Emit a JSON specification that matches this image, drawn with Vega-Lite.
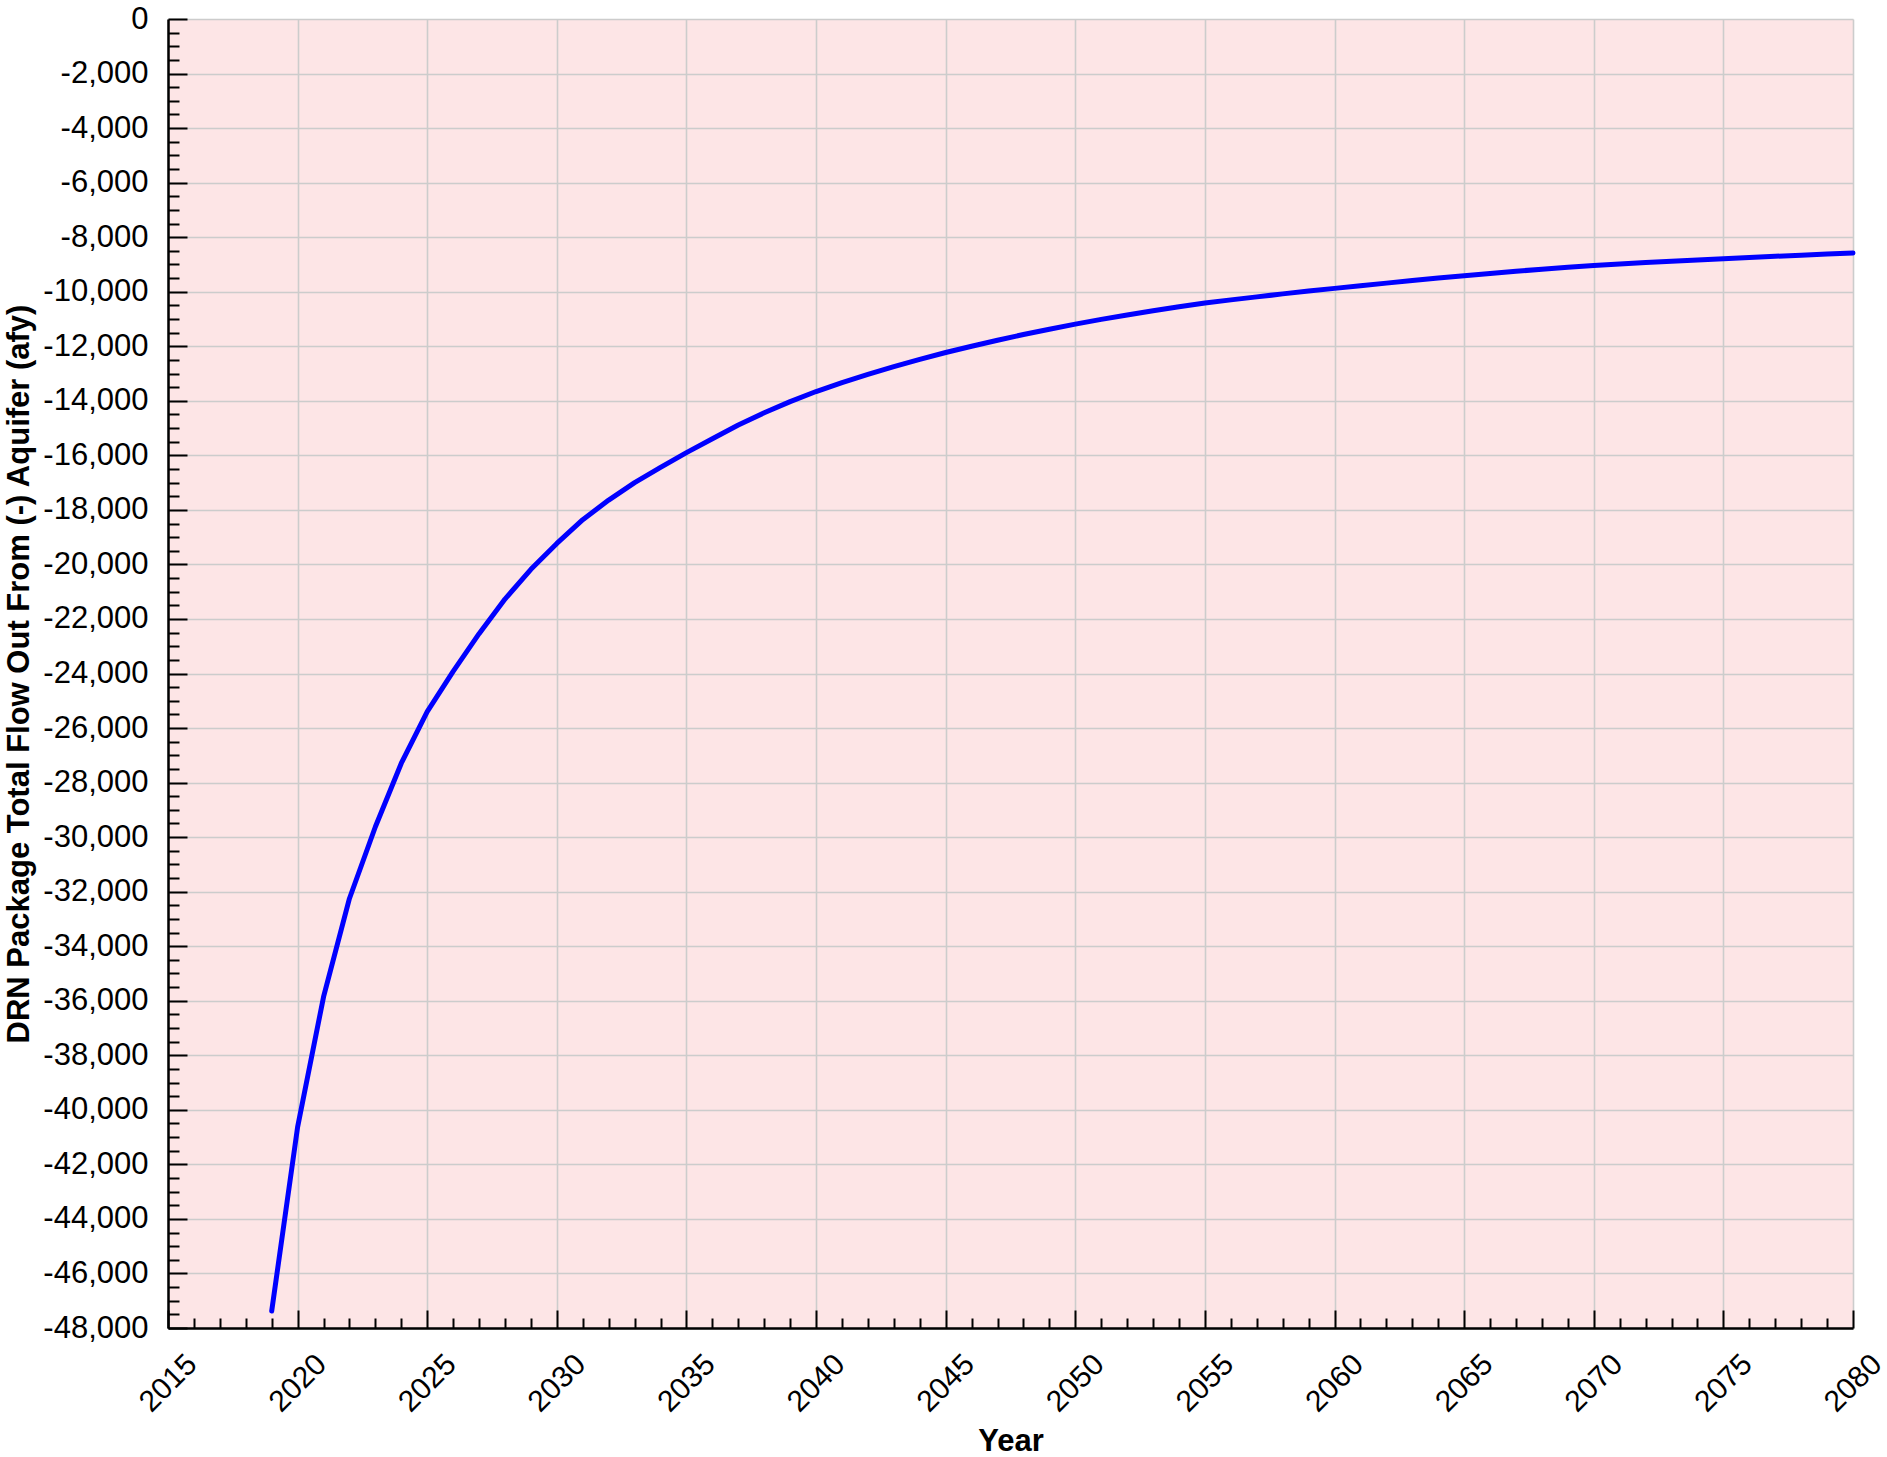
{
  "$schema": "https://vega.github.io/schema/vega-lite/v6.json",
  "width": 1685,
  "height": 1309,
  "autosize": {"type": "none"},
  "padding": {"left": 168, "top": 19, "right": 34, "bottom": 129},
  "background": "white",
  "config": {
    "view": {"fill": "#fde5e6", "stroke": null},
    "font": "Liberation Sans"
  },
  "data": {
    "values": [
      {"year": 2019, "flow": -47380},
      {"year": 2020, "flow": -40630},
      {"year": 2021, "flow": -35860},
      {"year": 2022, "flow": -32250},
      {"year": 2023, "flow": -29620},
      {"year": 2024, "flow": -27290},
      {"year": 2025, "flow": -25400},
      {"year": 2026, "flow": -23920},
      {"year": 2027, "flow": -22540},
      {"year": 2028, "flow": -21270},
      {"year": 2029, "flow": -20180},
      {"year": 2030, "flow": -19230},
      {"year": 2031, "flow": -18360},
      {"year": 2032, "flow": -17640},
      {"year": 2033, "flow": -17000},
      {"year": 2034, "flow": -16440},
      {"year": 2035, "flow": -15900},
      {"year": 2036, "flow": -15390},
      {"year": 2037, "flow": -14890},
      {"year": 2038, "flow": -14440},
      {"year": 2039, "flow": -14030},
      {"year": 2040, "flow": -13660},
      {"year": 2041, "flow": -13330},
      {"year": 2042, "flow": -13030},
      {"year": 2043, "flow": -12750},
      {"year": 2044, "flow": -12480},
      {"year": 2045, "flow": -12230},
      {"year": 2046, "flow": -12000},
      {"year": 2047, "flow": -11780},
      {"year": 2048, "flow": -11570},
      {"year": 2049, "flow": -11375},
      {"year": 2050, "flow": -11190},
      {"year": 2051, "flow": -11015},
      {"year": 2052, "flow": -10855},
      {"year": 2053, "flow": -10700},
      {"year": 2054, "flow": -10555},
      {"year": 2055, "flow": -10415},
      {"year": 2056, "flow": -10300},
      {"year": 2057, "flow": -10190},
      {"year": 2058, "flow": -10080},
      {"year": 2059, "flow": -9975},
      {"year": 2060, "flow": -9878},
      {"year": 2061, "flow": -9780},
      {"year": 2062, "flow": -9685},
      {"year": 2063, "flow": -9590},
      {"year": 2064, "flow": -9500},
      {"year": 2065, "flow": -9413},
      {"year": 2066, "flow": -9330},
      {"year": 2067, "flow": -9250},
      {"year": 2068, "flow": -9175},
      {"year": 2069, "flow": -9105},
      {"year": 2070, "flow": -9040},
      {"year": 2071, "flow": -8980},
      {"year": 2072, "flow": -8930},
      {"year": 2073, "flow": -8880},
      {"year": 2074, "flow": -8835},
      {"year": 2075, "flow": -8789},
      {"year": 2076, "flow": -8745},
      {"year": 2077, "flow": -8700},
      {"year": 2078, "flow": -8660},
      {"year": 2079, "flow": -8620},
      {"year": 2080, "flow": -8580}
    ]
  },
  "mark": {"type": "line", "color": "#0000ff", "strokeWidth": 5, "strokeCap": "round", "strokeJoin": "round"},
  "encoding": {
    "x": {
      "field": "year",
      "type": "quantitative",
      "scale": {"domain": [2015, 2080], "nice": false, "zero": false},
      "axis": {
        "title": "Year",
        "tickCount": 65,
        "grid": true,
        "gridColor": "#cccccc",
        "gridWidth": 1.6,
        "gridOpacity": {"condition": {"test": "datum.value % 5 === 0", "value": 1}, "value": 0},
        "tickSize": {"condition": {"test": "datum.value % 5 === 0", "value": -18}, "value": -10},
        "tickColor": "black",
        "tickWidth": 2,
        "domainColor": "black",
        "domainWidth": 2.5,
        "labelExpr": "datum.value % 5 === 0 ? format(datum.value, 'd') : ''",
        "labelAngle": -45,
        "labelAlign": "center",
        "labelBaseline": "middle",
        "labelPadding": 73,
        "labelFontSize": 30,
        "labelColor": "black",
        "labelOverlap": false,
        "labelFlush": false,
        "labelBound": false,
        "titleFontSize": 31,
        "titleFontWeight": "bold",
        "titleColor": "black",
        "titlePadding": 9
      }
    },
    "y": {
      "field": "flow",
      "type": "quantitative",
      "scale": {"domain": [-48000, 0], "nice": false, "zero": false},
      "axis": {
        "title": "DRN Package Total Flow Out From (-) Aquifer (afy)",
        "tickCount": 96,
        "grid": true,
        "gridColor": "#cccccc",
        "gridWidth": 1.6,
        "gridOpacity": {"condition": {"test": "datum.value % 2000 === 0", "value": 1}, "value": 0},
        "tickSize": {"condition": {"test": "datum.value % 2000 === 0", "value": -19}, "value": -11},
        "tickColor": "black",
        "tickWidth": 2,
        "domainColor": "black",
        "domainWidth": 2.5,
        "labelExpr": "datum.value % 2000 === 0 ? replace(format(datum.value, ','), '\u2212', '-') : ''",
        "labelPadding": 39,
        "labelFontSize": 31,
        "labelColor": "black",
        "labelOverlap": false,
        "labelFlush": false,
        "labelBound": false,
        "titleFontSize": 31,
        "titleFontWeight": "bold",
        "titleColor": "black",
        "titlePadding": 7
      }
    }
  }
}
